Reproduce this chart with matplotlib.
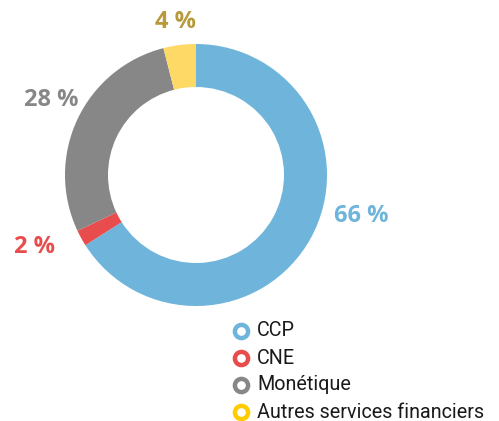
import matplotlib.pyplot as plt

categories = ['CCP', 'CNE', 'Monétique', 'Autres services financiers']
shares = [66, 2, 28, 4]
colors = ['#6fb5db', '#e84c4c', '#878787', '#ffd966']
label_colors = ['#6fb5db', '#e84c4c', '#878787', '#b89a3a']
marker_colors = ['#6fb5db', '#e84c4c', '#878787', '#ffcc00']
label_pos = [(361, 205), (35, 174), (51, 321), (176, 399)]

W, H = 499, 421
fig = plt.figure(figsize=(W / 100, H / 100), dpi=100)
ax = fig.add_axes([0, 0, 1, 1])

cx, cy, r = 196, H - 175, 131
ax.pie(shares, colors=colors, startangle=90, counterclock=False,
       center=(cx, cy), radius=r, frame=True,
       wedgeprops=dict(width=r - 88, linewidth=0))
ax.set_xlim(0, W)
ax.set_ylim(0, H)
ax.set_aspect('equal')
ax.axis('off')

for val, col, (x, y) in zip(shares, label_colors, label_pos):
    ax.text(x, y, f'{val} %', color=col, fontsize=17, fontweight='bold',
            family='Open Sans', ha='center', va='center')

# legend
for i, (name, col) in enumerate(zip(categories, marker_colors)):
    y = H - 331 - i * 27
    ax.scatter([241], [y], s=90, facecolor='white', edgecolor=col, linewidth=3.2)
    ax.text(257, y, name, fontsize=14.2, family='Roboto', color='#1a1a1a',
            ha='left', va='center')

fig.savefig('out.png', dpi=100)
